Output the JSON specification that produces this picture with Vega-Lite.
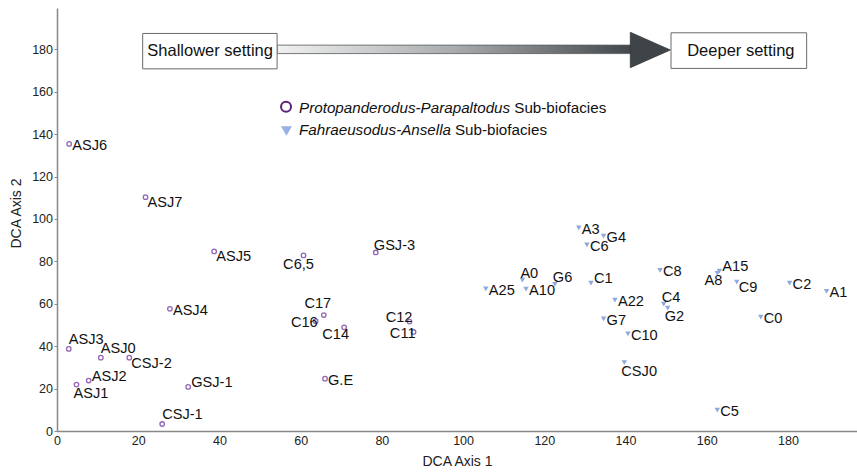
{
  "$schema": "https://vega.github.io/schema/vega-lite/v6.json",
  "width": 800,
  "height": 423,
  "autosize": {"type": "none"},
  "padding": {"left": 57, "top": 8, "right": 0, "bottom": 43},
  "background": "white",
  "config": {"view": {"stroke": null}, "font": "Liberation Sans"},
  "data": {
    "values": [
      {"sample": "ASJ6", "axis1": 3.0, "axis2": 135.4, "group": "Protopanderodus-Parapaltodus", "lab": "r"},
      {"sample": "ASJ7", "axis1": 21.8, "axis2": 110.3, "group": "Protopanderodus-Parapaltodus", "lab": "rd"},
      {"sample": "ASJ5", "axis1": 38.7, "axis2": 84.7, "group": "Protopanderodus-Parapaltodus", "lab": "rd"},
      {"sample": "ASJ4", "axis1": 27.8, "axis2": 57.6, "group": "Protopanderodus-Parapaltodus", "lab": "r"},
      {"sample": "ASJ3", "axis1": 2.9, "axis2": 38.7, "group": "Protopanderodus-Parapaltodus", "lab": "uu"},
      {"sample": "ASJ0", "axis1": 10.8, "axis2": 34.6, "group": "Protopanderodus-Parapaltodus", "lab": "uu"},
      {"sample": "CSJ-2", "axis1": 17.8, "axis2": 34.6, "group": "Protopanderodus-Parapaltodus", "lab": "rd"},
      {"sample": "ASJ2", "axis1": 7.8, "axis2": 23.8, "group": "Protopanderodus-Parapaltodus", "lab": "ru"},
      {"sample": "ASJ1", "axis1": 4.8, "axis2": 21.9, "group": "Protopanderodus-Parapaltodus", "lab": "d"},
      {"sample": "GSJ-1", "axis1": 32.3, "axis2": 20.8, "group": "Protopanderodus-Parapaltodus", "lab": "ru"},
      {"sample": "CSJ-1", "axis1": 25.9, "axis2": 3.3, "group": "Protopanderodus-Parapaltodus", "lab": "uu"},
      {"sample": "C6,5", "axis1": 60.7, "axis2": 82.8, "group": "Protopanderodus-Parapaltodus", "lab": "dc"},
      {"sample": "GSJ-3", "axis1": 78.5, "axis2": 84.2, "group": "Protopanderodus-Parapaltodus", "lab": "u"},
      {"sample": "C17", "axis1": 65.7, "axis2": 54.7, "group": "Protopanderodus-Parapaltodus", "lab": "uc"},
      {"sample": "C16", "axis1": 63.7, "axis2": 51.8, "group": "Protopanderodus-Parapaltodus", "lab": "l"},
      {"sample": "C14", "axis1": 70.7, "axis2": 48.9, "group": "Protopanderodus-Parapaltodus", "lab": "ld"},
      {"sample": "C12", "axis1": 86.8, "axis2": 51.6, "group": "Protopanderodus-Parapaltodus", "lab": "lu"},
      {"sample": "C11", "axis1": 87.8, "axis2": 46.7, "group": "Protopanderodus-Parapaltodus", "lab": "l"},
      {"sample": "G.E", "axis1": 66.0, "axis2": 24.7, "group": "Protopanderodus-Parapaltodus", "lab": "r"},
      {"sample": "A25", "axis1": 105.6, "axis2": 67.0, "group": "Fahraeusodus-Ansella", "lab": "r"},
      {"sample": "A0", "axis1": 114.6, "axis2": 71.1, "group": "Fahraeusodus-Ansella", "lab": "u"},
      {"sample": "A10", "axis1": 115.5, "axis2": 66.9, "group": "Fahraeusodus-Ansella", "lab": "r"},
      {"sample": "G6", "axis1": 122.6, "axis2": 69.1, "group": "Fahraeusodus-Ansella", "lab": "u"},
      {"sample": "A3", "axis1": 128.5, "axis2": 95.8, "group": "Fahraeusodus-Ansella", "lab": "r"},
      {"sample": "G4", "axis1": 134.6, "axis2": 91.9, "group": "Fahraeusodus-Ansella", "lab": "r"},
      {"sample": "C6", "axis1": 130.5, "axis2": 87.8, "group": "Fahraeusodus-Ansella", "lab": "r"},
      {"sample": "C1", "axis1": 131.5, "axis2": 69.8, "group": "Fahraeusodus-Ansella", "lab": "ru"},
      {"sample": "C8", "axis1": 148.5, "axis2": 75.7, "group": "Fahraeusodus-Ansella", "lab": "r"},
      {"sample": "A15", "axis1": 163.1, "axis2": 75.4, "group": "Fahraeusodus-Ansella", "lab": "ru"},
      {"sample": "A8", "axis1": 162.6, "axis2": 74.4, "group": "Fahraeusodus-Ansella", "lab": "ld"},
      {"sample": "C9", "axis1": 167.4, "axis2": 70.2, "group": "Fahraeusodus-Ansella", "lab": "rd"},
      {"sample": "C2", "axis1": 180.4, "axis2": 69.8, "group": "Fahraeusodus-Ansella", "lab": "r"},
      {"sample": "A1", "axis1": 189.5, "axis2": 65.9, "group": "Fahraeusodus-Ansella", "lab": "r"},
      {"sample": "A22", "axis1": 137.4, "axis2": 61.7, "group": "Fahraeusodus-Ansella", "lab": "r"},
      {"sample": "C4", "axis1": 149.4, "axis2": 59.8, "group": "Fahraeusodus-Ansella", "lab": "u"},
      {"sample": "G2", "axis1": 150.4, "axis2": 58.0, "group": "Fahraeusodus-Ansella", "lab": "d"},
      {"sample": "G7", "axis1": 134.6, "axis2": 52.9, "group": "Fahraeusodus-Ansella", "lab": "r"},
      {"sample": "C0", "axis1": 173.3, "axis2": 53.7, "group": "Fahraeusodus-Ansella", "lab": "r"},
      {"sample": "C10", "axis1": 140.6, "axis2": 45.8, "group": "Fahraeusodus-Ansella", "lab": "r"},
      {"sample": "CSJ0", "axis1": 139.7, "axis2": 32.3, "group": "Fahraeusodus-Ansella", "lab": "d"},
      {"sample": "C5", "axis1": 162.6, "axis2": 9.9, "group": "Fahraeusodus-Ansella", "lab": "r"}
    ]
  },
  "layer": [
    {
      "transform": [{"filter": "datum.group === 'Protopanderodus-Parapaltodus'"}],
      "mark": {"type": "point", "shape": "circle", "filled": false, "stroke": "#9466b6", "strokeWidth": 1.3, "size": 20, "opacity": 1},
      "encoding": {
        "x": {
          "field": "axis1", "type": "quantitative",
          "scale": {"domain": [0, 197], "nice": false, "zero": false},
          "axis": {
            "title": "DCA Axis 1", "values": [0, 20, 40, 60, 80, 100, 120, 140, 160, 180],
            "ticks": false, "grid": false, "domainColor": "#888888", "domainWidth": 1.5,
            "labelFontSize": 12.5, "labelColor": "#222222", "labelPadding": 3, "labelFlush": false, "labelOverlap": false, "labelBound": false,
            "titleFontSize": 14, "titleFontWeight": "normal", "titleColor": "#222222", "titlePadding": 8,
            "encode": {"labels": {"update": {"dx": {"signal": "datum.value === 0 ? -12 : 0"}}}}
          }
        },
        "y": {
          "field": "axis2", "type": "quantitative",
          "scale": {"domain": [0, 199.5], "nice": false, "zero": false},
          "axis": {
            "title": "DCA Axis 2", "values": [0, 20, 40, 60, 80, 100, 120, 140, 160, 180],
            "tickSize": 3, "tickColor": "#888888", "tickWidth": 1, "grid": false, "domainColor": "#888888", "domainWidth": 1.5,
            "labelFontSize": 12.5, "labelColor": "#222222", "labelPadding": 1.5, "labelFlush": false, "labelOverlap": false, "labelBound": false,
            "titleFontSize": 14, "titleFontWeight": "normal", "titleColor": "#222222", "titlePadding": 8, "titleY": 205,
            "encode": {"labels": {"update": {"dx": {"signal": "datum.value === 0 ? -6 : 0"}, "dy": {"signal": "datum.value === 0 ? -4 : 0"}}}}
          }
        }
      }
    },
    {
      "transform": [{"filter": "datum.group === 'Fahraeusodus-Ansella'"}],
      "mark": {"type": "point", "shape": "triangle-down", "filled": true, "fill": "#8eaadc", "size": 30, "opacity": 1},
      "encoding": {"x": {"field": "axis1", "type": "quantitative"}, "y": {"field": "axis2", "type": "quantitative"}}
    },
    {
      "transform": [{"filter": "datum.lab === 'r'"}],
      "mark": {"type": "text", "align": "left", "baseline": "middle", "dx": 3, "dy": 2, "fontSize": 14.6, "color": "#111111"},
      "encoding": {"x": {"field": "axis1", "type": "quantitative"}, "y": {"field": "axis2", "type": "quantitative"}, "text": {"field": "sample"}}
    },
    {
      "transform": [{"filter": "datum.lab === 'rd'"}],
      "mark": {"type": "text", "align": "left", "baseline": "middle", "dx": 2, "dy": 6, "fontSize": 14.6, "color": "#111111"},
      "encoding": {"x": {"field": "axis1", "type": "quantitative"}, "y": {"field": "axis2", "type": "quantitative"}, "text": {"field": "sample"}}
    },
    {
      "transform": [{"filter": "datum.lab === 'ru'"}],
      "mark": {"type": "text", "align": "left", "baseline": "middle", "dx": 3, "dy": -4, "fontSize": 14.6, "color": "#111111"},
      "encoding": {"x": {"field": "axis1", "type": "quantitative"}, "y": {"field": "axis2", "type": "quantitative"}, "text": {"field": "sample"}}
    },
    {
      "transform": [{"filter": "datum.lab === 'u'"}],
      "mark": {"type": "text", "align": "left", "baseline": "middle", "dx": -2, "dy": -6, "fontSize": 14.6, "color": "#111111"},
      "encoding": {"x": {"field": "axis1", "type": "quantitative"}, "y": {"field": "axis2", "type": "quantitative"}, "text": {"field": "sample"}}
    },
    {
      "transform": [{"filter": "datum.lab === 'uu'"}],
      "mark": {"type": "text", "align": "left", "baseline": "middle", "dx": 0, "dy": -9, "fontSize": 14.6, "color": "#111111"},
      "encoding": {"x": {"field": "axis1", "type": "quantitative"}, "y": {"field": "axis2", "type": "quantitative"}, "text": {"field": "sample"}}
    },
    {
      "transform": [{"filter": "datum.lab === 'd'"}],
      "mark": {"type": "text", "align": "left", "baseline": "middle", "dx": -3, "dy": 9, "fontSize": 14.6, "color": "#111111"},
      "encoding": {"x": {"field": "axis1", "type": "quantitative"}, "y": {"field": "axis2", "type": "quantitative"}, "text": {"field": "sample"}}
    },
    {
      "transform": [{"filter": "datum.lab === 'uc'"}],
      "mark": {"type": "text", "align": "center", "baseline": "middle", "dx": -6, "dy": -11, "fontSize": 14.6, "color": "#111111"},
      "encoding": {"x": {"field": "axis1", "type": "quantitative"}, "y": {"field": "axis2", "type": "quantitative"}, "text": {"field": "sample"}}
    },
    {
      "transform": [{"filter": "datum.lab === 'dc'"}],
      "mark": {"type": "text", "align": "center", "baseline": "middle", "dx": -5, "dy": 10, "fontSize": 14.6, "color": "#111111"},
      "encoding": {"x": {"field": "axis1", "type": "quantitative"}, "y": {"field": "axis2", "type": "quantitative"}, "text": {"field": "sample"}}
    },
    {
      "transform": [{"filter": "datum.lab === 'l'"}],
      "mark": {"type": "text", "align": "right", "baseline": "middle", "dx": 2, "dy": 2, "fontSize": 14.6, "color": "#111111"},
      "encoding": {"x": {"field": "axis1", "type": "quantitative"}, "y": {"field": "axis2", "type": "quantitative"}, "text": {"field": "sample"}}
    },
    {
      "transform": [{"filter": "datum.lab === 'ld'"}],
      "mark": {"type": "text", "align": "right", "baseline": "middle", "dx": 5, "dy": 8, "fontSize": 14.6, "color": "#111111"},
      "encoding": {"x": {"field": "axis1", "type": "quantitative"}, "y": {"field": "axis2", "type": "quantitative"}, "text": {"field": "sample"}}
    },
    {
      "transform": [{"filter": "datum.lab === 'lu'"}],
      "mark": {"type": "text", "align": "right", "baseline": "middle", "dx": 3, "dy": -4, "fontSize": 14.6, "color": "#111111"},
      "encoding": {"x": {"field": "axis1", "type": "quantitative"}, "y": {"field": "axis2", "type": "quantitative"}, "text": {"field": "sample"}}
    },
    {
      "data": {"values": [{}]},
      "mark": {"type": "rect", "fill": {"gradient": "linear", "x1": 0, "y1": 0, "x2": 1, "y2": 0, "stops": [{"offset": 0, "color": "#f0f0f0"}, {"offset": 0.5, "color": "#a8abad"}, {"offset": 1, "color": "#41464a"}]}, "stroke": "#555a5e", "strokeWidth": 0.8},
      "encoding": {"x": {"datum": 54.2, "type": "quantitative"}, "x2": {"datum": 142.2}, "y": {"datum": 182.0, "type": "quantitative"}, "y2": {"datum": 178.0}}
    },
    {
      "data": {"values": [{}]},
      "mark": {"type": "point", "shape": "M-1,-0.885L1,0L-1,0.885Z", "filled": true, "fill": "#3f4448", "stroke": "#33383b", "strokeWidth": 0.8, "size": 1600, "opacity": 1},
      "encoding": {"x": {"datum": 146.1, "type": "quantitative"}, "y": {"datum": 179.7, "type": "quantitative"}}
    },
    {
      "data": {"values": [{}]},
      "mark": {"type": "rect", "fill": "white", "stroke": "#6a6a6a", "strokeWidth": 1},
      "encoding": {"x": {"datum": 21.1, "type": "quantitative"}, "x2": {"datum": 54.2}, "y": {"datum": 187.5, "type": "quantitative"}, "y2": {"datum": 170.8}}
    },
    {
      "data": {"values": [{}]},
      "mark": {"type": "rect", "fill": "white", "stroke": "#6a6a6a", "strokeWidth": 1},
      "encoding": {"x": {"datum": 151.2, "type": "quantitative"}, "x2": {"datum": 184.6}, "y": {"datum": 187.8, "type": "quantitative"}, "y2": {"datum": 171.0}}
    },
    {
      "data": {"values": [{}]},
      "mark": {"type": "text", "text": "Shallower setting", "align": "center", "baseline": "middle", "dy": 1, "fontSize": 16.5, "color": "#111111"},
      "encoding": {"x": {"datum": 37.7, "type": "quantitative"}, "y": {"datum": 179.5, "type": "quantitative"}}
    },
    {
      "data": {"values": [{}]},
      "mark": {"type": "text", "text": "Deeper setting", "align": "center", "baseline": "middle", "dy": 1, "fontSize": 16.5, "color": "#111111"},
      "encoding": {"x": {"datum": 168.4, "type": "quantitative"}, "y": {"datum": 179.5, "type": "quantitative"}}
    },
    {
      "data": {"values": [{}]},
      "mark": {"type": "point", "shape": "circle", "filled": false, "stroke": "#5c2377", "strokeWidth": 2, "size": 100, "opacity": 1},
      "encoding": {"x": {"datum": 56.4, "type": "quantitative"}, "y": {"datum": 152.9, "type": "quantitative"}}
    },
    {
      "data": {"values": [{}]},
      "mark": {"type": "point", "shape": "triangle-down", "filled": true, "fill": "#98b0e2", "size": 121, "opacity": 1},
      "encoding": {"x": {"datum": 56.5, "type": "quantitative"}, "y": {"datum": 141.5, "type": "quantitative"}}
    },
    {
      "data": {"values": [{}]},
      "mark": {"type": "text", "text": "Protopanderodus-Parapaltodus", "fontStyle": "italic", "align": "left", "baseline": "middle", "dy": 1, "fontSize": 15.2, "color": "#111111"},
      "encoding": {"x": {"datum": 59.6, "type": "quantitative"}, "y": {"datum": 153.0, "type": "quantitative"}}
    },
    {
      "data": {"values": [{}]},
      "mark": {"type": "text", "text": "Sub-biofacies", "align": "left", "baseline": "middle", "dy": 1, "fontSize": 15.2, "color": "#111111"},
      "encoding": {"x": {"datum": 112.6, "type": "quantitative"}, "y": {"datum": 153.0, "type": "quantitative"}}
    },
    {
      "data": {"values": [{}]},
      "mark": {"type": "text", "text": "Fahraeusodus-Ansella", "fontStyle": "italic", "align": "left", "baseline": "middle", "dy": 1, "fontSize": 15.2, "color": "#111111"},
      "encoding": {"x": {"datum": 59.6, "type": "quantitative"}, "y": {"datum": 142.6, "type": "quantitative"}}
    },
    {
      "data": {"values": [{}]},
      "mark": {"type": "text", "text": "Sub-biofacies", "align": "left", "baseline": "middle", "dy": 1, "fontSize": 15.2, "color": "#111111"},
      "encoding": {"x": {"datum": 98.0, "type": "quantitative"}, "y": {"datum": 142.6, "type": "quantitative"}}
    }
  ]
}
